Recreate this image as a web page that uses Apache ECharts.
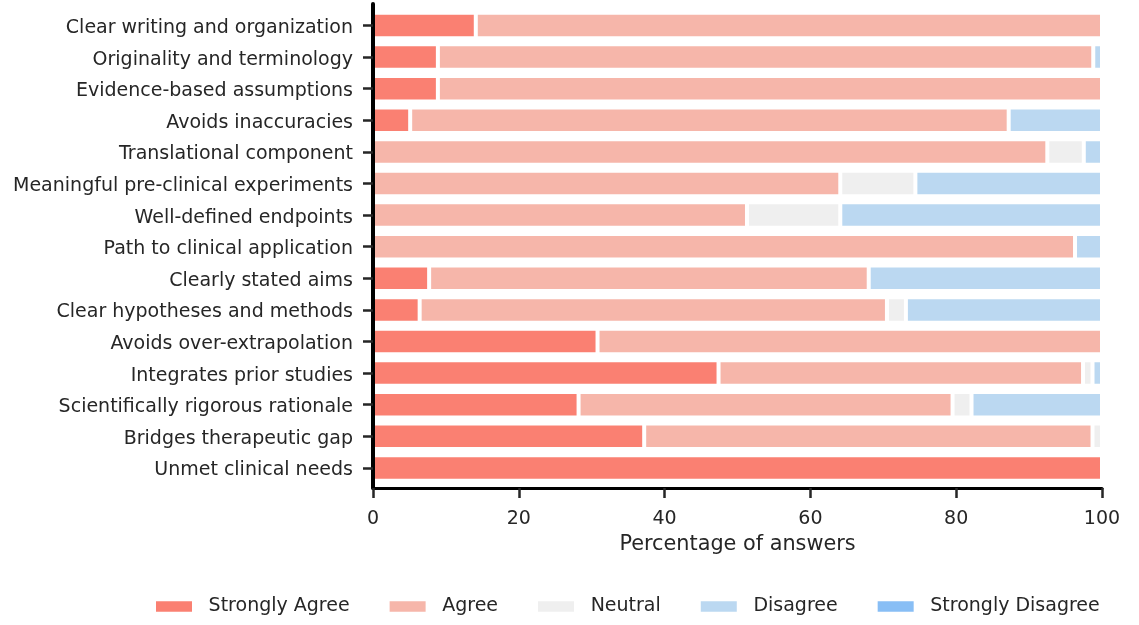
<!DOCTYPE html>
<html>
<head>
<meta charset="utf-8">
<script src="https://cdn.jsdelivr.net/npm/echarts@6/dist/echarts.min.js"></script>
<style>
  html, body { margin: 0; padding: 0; background: #ffffff; }
  #chart { width: 1139px; height: 625px; }
</style>
</head>
<body>
<div id="chart"></div>
<script>
// Categories, top to bottom
const categories = [
  "Clear writing and organization",
  "Originality and terminology",
  "Evidence-based assumptions",
  "Avoids inaccuracies",
  "Translational component",
  "Meaningful pre-clinical experiments",
  "Well-defined endpoints",
  "Path to clinical application",
  "Clearly stated aims",
  "Clear hypotheses and methods",
  "Avoids over-extrapolation",
  "Integrates prior studies",
  "Scientifically rigorous rationale",
  "Bridges therapeutic gap",
  "Unmet clinical needs"
];

const seriesNames = ["Strongly Agree", "Agree", "Neutral", "Disagree", "Strongly Disagree"];

// Percentages per category (same order as categories)
const stronglyAgree    = [14.1, 8.9, 8.9, 5.1, 0, 0, 0, 0, 7.7, 6.4, 30.8, 47.4, 28.2, 37.2, 100];
const agree            = [85.9, 89.9, 91.1, 82.1, 92.5, 64.1, 51.3, 96.3, 60.3, 64.1, 69.2, 50.0, 51.3, 61.5, 0];
const neutral          = [0, 0, 0, 0, 5.0, 10.3, 12.8, 0, 0, 2.6, 0, 1.3, 2.6, 1.3, 0];
const disagree         = [0, 1.2, 0, 12.8, 2.5, 25.6, 35.9, 3.7, 32.0, 26.9, 0, 1.3, 17.9, 0, 0];
const stronglyDisagree = [0, 0, 0, 0, 0, 0, 0, 0, 0, 0, 0, 0, 0, 0, 0];

const xTicks = { min: 0, max: 100, interval: 20 };

const colors = ["#FA8072", "#F6B6AA", "#EFEFEF", "#BBD8F1", "#88BEF5"];
const values = [stronglyAgree, agree, neutral, disagree, stronglyDisagree];

const FONT = "DejaVu Sans";
const TXT = "#262626";

const chart = echarts.init(document.getElementById("chart"), null, { renderer: "canvas" });

const series = seriesNames.map((name, i) => ({
  name: name,
  type: "bar",
  stack: "total",
  xAxisIndex: 0,
  yAxisIndex: 0,
  barWidth: "80.7%",
  z: 2,
  itemStyle: { color: colors[i], borderColor: "#ffffff", borderWidth: 2 },
  emphasis: { disabled: true },
  data: values[i].map(v => (v === 0 ? "-" : v))
}));

chart.setOption({
  animation: false,
  backgroundColor: "#ffffff",
  textStyle: { fontFamily: FONT },
  grid: [
    { left: 373, right: 37, top: 9.7, bottom: 141.3 },
    { left: 373, right: 37, top: 4, bottom: 137 }
  ],
  xAxis: [
    { gridIndex: 0, type: "value", min: xTicks.min, max: xTicks.max, show: false },
    {
      gridIndex: 1, type: "value", min: xTicks.min, max: xTicks.max, interval: xTicks.interval,
      z: 10,
      axisLine: { show: true, lineStyle: { color: "#000000", width: 3 } },
      axisTick: { show: true, length: 10, lineStyle: { color: TXT, width: 2.5 } },
      axisLabel: { fontSize: 19, color: TXT, fontFamily: FONT, margin: 22 },
      splitLine: { show: false },
      name: "Percentage of answers",
      nameLocation: "middle",
      nameGap: 46,
      nameTextStyle: { fontSize: 20.8, color: TXT, fontFamily: FONT }
    }
  ],
  yAxis: [
    {
      gridIndex: 0, type: "category", data: categories, inverse: true,
      z: 10,
      axisLine: { show: false },
      axisTick: { show: true, alignWithLabel: true, length: 10, lineStyle: { color: TXT, width: 2.5 } },
      axisLabel: {
        fontSize: 19, color: TXT, fontFamily: FONT, margin: 20,
        formatter: v => "{a|" + v + "}",
        rich: { a: { fontSize: 19, color: TXT, fontFamily: FONT, padding: [5, 0, 0, 0] } }
      },
      splitLine: { show: false }
    },
    {
      gridIndex: 1, type: "value", min: 0, max: 1,
      z: 10,
      axisLine: { show: true, onZero: false, lineStyle: { color: "#000000", width: 4 } },
      axisTick: { show: false },
      axisLabel: { show: false },
      splitLine: { show: false }
    }
  ],
  legend: {
    data: seriesNames,
    left: 151,
    top: 592,
    icon: "rect",
    itemWidth: 36,
    itemHeight: 10.7,
    itemGap: 40,
    itemStyle: { borderWidth: 0 },
    textStyle: { fontSize: 19, color: TXT, fontFamily: FONT, padding: [0, 0, 0, 11.6] }
  },
  series: series
});
</script>
</body>
</html>
